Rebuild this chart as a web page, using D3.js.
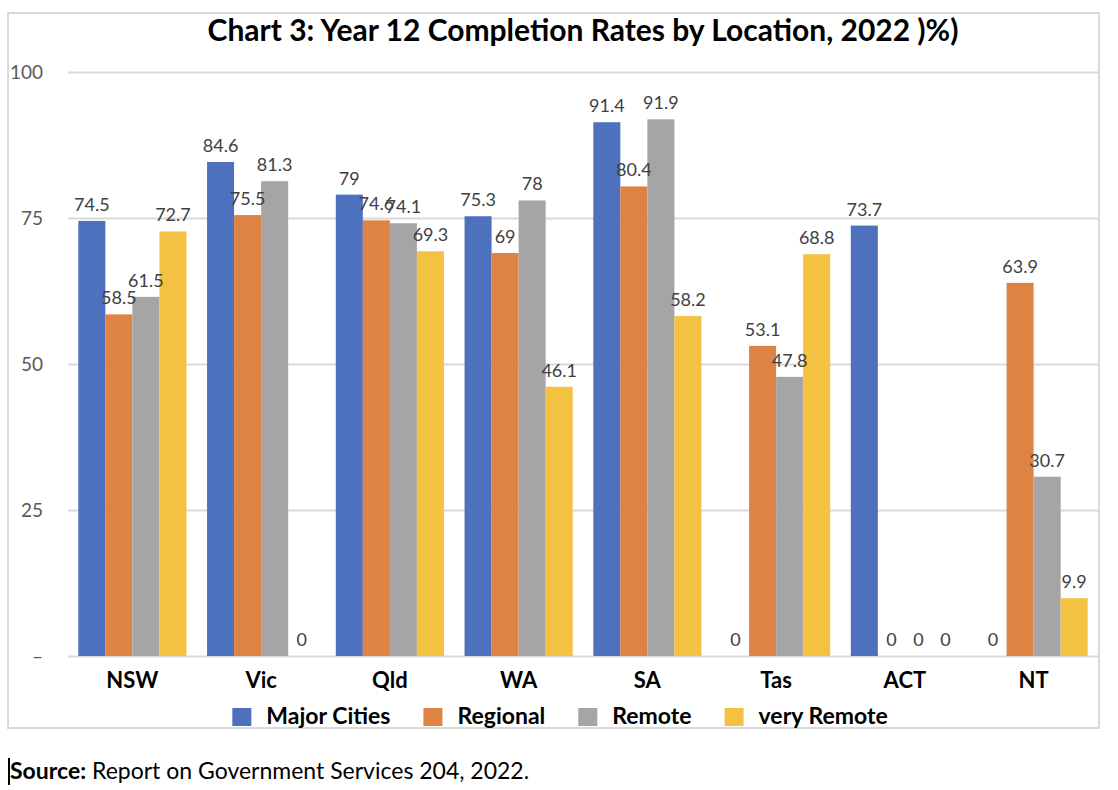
<!DOCTYPE html>
<html>
<head>
<meta charset="utf-8">
<script src="https://cdn.jsdelivr.net/npm/d3@7"></script>
<style>
  body { margin: 0; background: #fff; }
  svg { display: block; font-family: Lato, 'Open Sans', sans-serif; }
</style>
</head>
<body>
<svg id="chart" width="1118" height="790"></svg>
<script>
const states = ['NSW', 'Vic', 'Qld', 'WA', 'SA', 'Tas', 'ACT', 'NT']
const seriesNames = ['Major Cities', 'Regional', 'Remote', 'very Remote']
const majorCities = [74.5, 84.6, 79, 75.3, 91.4, 0, 73.7, 0]
const regional = [58.5, 75.5, 74.6, 69, 80.4, 53.1, 0, 63.9]
const remote = [61.5, 81.3, 74.1, 78, 91.9, 47.8, 0, 30.7]
const veryRemote = [72.7, 0, 69.3, 46.1, 58.2, 68.8, 0, 9.9]
const yTicks = [0, 25, 50, 75, 100]

const colours = ['#4e71be', '#df8344', '#a5a5a5', '#f4c242']
const seriesValues = [majorCities, regional, remote, veryRemote]

const svg = d3.select('#chart')

// outer chart frame
svg.append('rect')
  .attr('x', 8).attr('y', 13)
  .attr('width', 1091).attr('height', 715)
  .attr('fill', '#fff')
  .attr('stroke', '#d9d9d9')
  .attr('stroke-width', 2)

svg.append('text')
  .text('Chart 3: Year 12 Completion Rates by Location, 2022 )%)')
  .attr('x', 583).attr('y', 41)
  .attr('text-anchor', 'middle')
  .attr('font-size', 30)
  .attr('font-weight', 'bold')
  .attr('fill', '#000')

const plot = { left: 68, right: 1098, top: 72, bottom: 656 }

const x0 = d3.scaleBand()
  .domain(states)
  .range([plot.left, plot.right])
  .paddingInner(0.16)
  .paddingOuter(0.08)

const x1 = d3.scaleBand()
  .domain(seriesNames)
  .range([0, x0.bandwidth()])

const y = d3.scaleLinear()
  .domain([0, 100])
  .range([plot.bottom, plot.top])

// gridlines + y labels
const yAxis = d3.axisLeft(y)
  .tickValues(yTicks)
  .tickSize(-(plot.right - plot.left))
  .tickPadding(25)
  .tickFormat(d => d === 0 ? '–' : d)

const yG = svg.append('g')
  .attr('transform', `translate(${plot.left},0)`)
  .call(yAxis)
yG.select('.domain').remove()
yG.selectAll('line').attr('stroke', '#d9d9d9').attr('stroke-width', 2)
yG.selectAll('text')
  .attr('fill', '#595959')
  .attr('font-size', 19)
  .attr('font-family', 'Lato, sans-serif')

const rows = states.map((s, i) => ({
  state: s,
  values: seriesNames.map((name, j) => ({ name, colour: colours[j], value: seriesValues[j][i] }))
}))

const groups = svg.append('g').selectAll('g')
  .data(rows)
  .join('g')
  .attr('transform', d => `translate(${x0(d.state)},0)`)

groups.selectAll('rect')
  .data(d => d.values)
  .join('rect')
  .attr('x', d => x1(d.name))
  .attr('y', d => y(d.value))
  .attr('width', x1.bandwidth())
  .attr('height', d => y(0) - y(d.value))
  .attr('fill', d => d.colour)

groups.selectAll('text')
  .data(d => d.values)
  .join('text')
  .text(d => d.value)
  .attr('x', d => x1(d.name) + x1.bandwidth() / 2)
  .attr('y', d => y(d.value) - 10)
  .attr('text-anchor', 'middle')
  .attr('font-size', 18)
  .attr('fill', '#404040')

// category axis
const xAxis = d3.axisBottom(x0).tickSize(0).tickPadding(16)
const xG = svg.append('g')
  .attr('transform', `translate(0,${plot.bottom})`)
  .call(xAxis)
xG.select('.domain').remove()
xG.selectAll('text')
  .attr('font-size', 22)
  .attr('font-weight', 'bold')
  .attr('fill', '#000')
  .attr('font-family', 'Lato, sans-serif')

// legend
const legend = svg.append('g')
let lx = 0
seriesNames.forEach((name, i) => {
  const item = legend.append('g').attr('transform', `translate(${lx},0)`)
  item.append('rect')
    .attr('width', 19).attr('height', 18)
    .attr('y', -16)
    .attr('fill', colours[i])
  const t = item.append('text')
    .text(name)
    .attr('x', 34)
    .attr('font-size', 23)
    .attr('font-weight', 'bold')
    .attr('fill', '#000')
  lx += 34 + t.node().getComputedTextLength() + 33
})
const legendWidth = lx - 33
legend.attr('transform', `translate(${560 - legendWidth / 2},724)`)

// source note under the frame
svg.append('line')
  .attr('x1', 9).attr('x2', 9)
  .attr('y1', 758).attr('y2', 785)
  .attr('stroke', '#000').attr('stroke-width', 2)

const source = svg.append('text')
  .attr('x', 10).attr('y', 779)
  .attr('font-size', 23)
  .attr('fill', '#000')
source.append('tspan').attr('font-weight', 'bold').text('Source:')
source.append('tspan').text(' Report on Government Services 204, 2022.')
</script>
</body>
</html>
